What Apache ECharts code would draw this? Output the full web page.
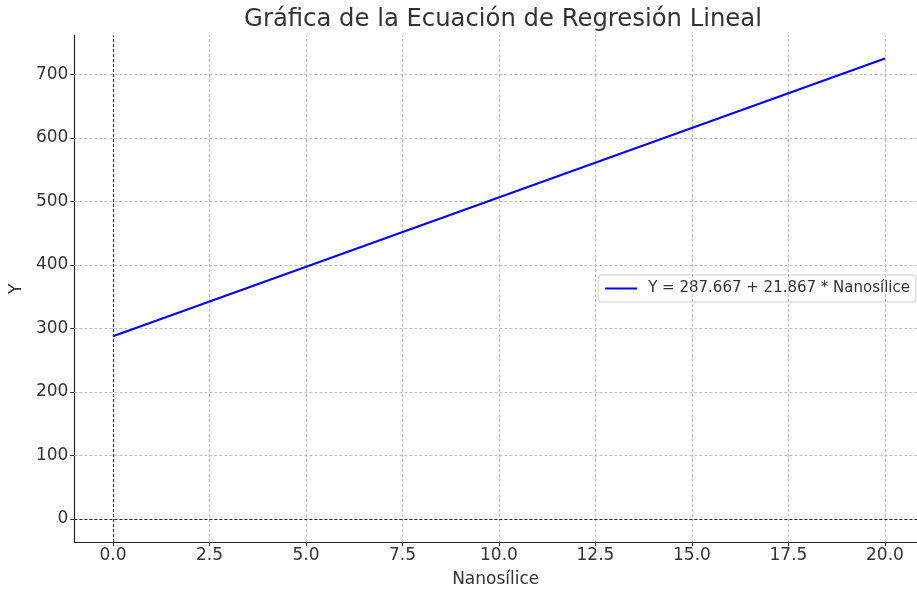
<!DOCTYPE html>
<html>
<head>
<meta charset="utf-8">
<script src="https://cdn.jsdelivr.net/npm/echarts@6/dist/echarts.min.js"></script>
<style>html,body{margin:0;padding:0;background:#fff}#c{width:917px;height:591px}</style>
</head>
<body>
<div id="c"></div>
<script>
const lineX = [0, 20];
const lineY = [287.667, 725.007];
const xTicks = [0, 2.5, 5, 7.5, 10, 12.5, 15, 17.5, 20];
const yTicks = [0, 100, 200, 300, 400, 500, 600, 700];
const seriesName = 'Y = 287.667 + 21.867 * Nanosílice';
const titleText = 'Gráfica de la Ecuación de Regresión Lineal';

const FONT = 'DejaVu Sans';
const chart = echarts.init(document.getElementById('c'), null, {renderer: 'canvas'});

const gridStyle = {color: '#b0b0b0', width: 0.8, type: [3, 2]};
const gridLines = [];
xTicks.forEach(v => gridLines.push({xAxis: v, lineStyle: gridStyle}));
yTicks.forEach(v => gridLines.push({yAxis: v, lineStyle: gridStyle}));
const zeroStyle = {color: '#000', width: 0.8, type: [3, 2]};

chart.setOption({
  animation: false,
  textStyle: {fontFamily: FONT},
  title: {
    text: titleText,
    left: 498, top: 3, textAlign: 'center',
    textStyle: {fontFamily: FONT, fontSize: 24.3, fontWeight: 'normal', color: '#333'}
  },
  legend: {
    right: 1, top: 275,
    padding: [6, 6, 6, 7], itemGap: 10,
    itemWidth: 32, itemHeight: 14,
    borderColor: '#cccccc', borderWidth: 1, borderRadius: 3,
    backgroundColor: '#fff',
    textStyle: {fontFamily: FONT, fontSize: 15, color: '#333', padding: [0, 0, 0, 6]},
    data: [{name: seriesName, icon: 'path://M0,0 L32,0 L32,2 L0,2 Z'}]
  },
  grid: {left: 74.4, right: 0, top: 35.5, bottom: 49, containLabel: false, outerBoundsMode: 'none'},
  xAxis: {
    type: 'value', min: -1, max: 20.83,
    name: 'Nanosílice', nameLocation: 'middle', nameGap: 29,
    nameTextStyle: {fontFamily: FONT, fontSize: 17, color: '#333'},
    axisLine: {show: true, onZero: false, lineStyle: {color: '#222', width: 1.2}},
    axisTick: {show: true, length: 4, customValues: xTicks, lineStyle: {color: '#222'}},
    axisLabel: {customValues: xTicks, margin: 5, fontFamily: FONT, fontSize: 17, color: '#333',
      formatter: v => v.toFixed(1)},
    splitLine: {show: false}
  },
  yAxis: {
    type: 'value', min: -36.25, max: 761.26,
    name: 'Y', nameLocation: 'middle', nameGap: 46, nameRotate: 90,
    nameTextStyle: {fontFamily: FONT, fontSize: 17, color: '#333'},
    axisLine: {show: true, onZero: false, lineStyle: {color: '#222', width: 1.2}},
    axisTick: {show: true, length: 4, customValues: yTicks, lineStyle: {color: '#222'}},
    axisLabel: {customValues: yTicks, margin: 6, fontFamily: FONT, fontSize: 17, color: '#333',
      formatter: v => String(Math.round(v))},
    splitLine: {show: false}
  },
  series: [
    {
      type: 'line', name: 'grid', data: [], silent: true, z: 1,
      markLine: {silent: true, symbol: 'none', label: {show: false}, data: gridLines, animation: false}
    },
    {
      type: 'line', name: 'zero', data: [], silent: true, z: 2,
      markLine: {silent: true, symbol: 'none', label: {show: false}, animation: false,
        data: [{xAxis: 0, lineStyle: zeroStyle}, {yAxis: 0, lineStyle: zeroStyle}]}
    },
    {
      type: 'line', name: seriesName, z: 5,
      data: lineX.map((x, i) => [x, lineY[i]]),
      showSymbol: false, symbol: 'none',
      lineStyle: {color: '#0000ff', width: 2},
      itemStyle: {color: '#0000ff'}
    }
  ]
});
</script>
</body>
</html>
